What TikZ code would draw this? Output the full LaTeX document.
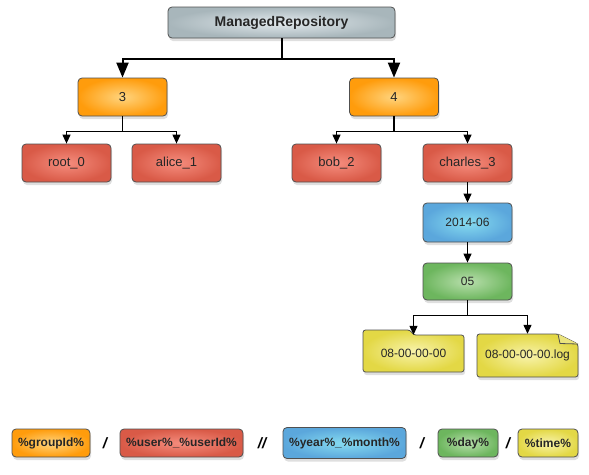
\documentclass[tikz,border=0pt]{standalone}
\usepackage{fontspec}
\setmainfont{Liberation Sans}
\usetikzlibrary{shapes}
\usetikzlibrary{arrows.meta}
\usetikzlibrary{shadows}

\definecolor{boxline}{HTML}{505050}
\definecolor{grayin}{HTML}{E3EAEE}\definecolor{grayout}{HTML}{A8B6BB}
\definecolor{orangein}{HTML}{FFD47E}\definecolor{orangeout}{HTML}{FF9C0C}
\definecolor{redin}{HTML}{F58D7E}\definecolor{redout}{HTML}{D95A47}
\definecolor{bluein}{HTML}{86DCF0}\definecolor{blueout}{HTML}{5BA7DC}
\definecolor{greenin}{HTML}{B9DFAD}\definecolor{greenout}{HTML}{6DB65E}
\definecolor{yellowin}{HTML}{F8F3AB}\definecolor{yellowout}{HTML}{E3D845}

\begin{document}
\begin{tikzpicture}[x=1pt,y=-1pt,
			box/.style={rectangle,rounded corners=4pt,draw=boxline,line width=0.8pt,inner sep=0pt,text=black!85,minimum width=89pt,minimum height=38pt,drop shadow={shadow xshift=1pt,shadow yshift=-3pt,opacity=0.25}},
			rootbox/.style={box,inner color=grayin,outer color=grayout,minimum width=227pt,minimum height=31pt,font=\fontsize{14}{16}\selectfont\bfseries},
			groupbox/.style={box,inner color=orangein,outer color=orangeout,font=\fontsize{13}{15}\selectfont},
			userbox/.style={box,inner color=redin,outer color=redout,font=\fontsize{13}{15}\selectfont},
			monthbox/.style={box,inner color=bluein,outer color=blueout,font=\fontsize{12}{14}\selectfont},
			daybox/.style={box,inner color=greenin,outer color=greenout,font=\fontsize{12}{14}\selectfont},
			filetext/.style={rectangle,inner sep=0pt,text=black!85,font=\fontsize{12}{14}\selectfont},
			filebody/.style={draw=boxline,line width=0.8pt,inner color=yellowin,outer color=yellowout,rounded corners=2.5pt,drop shadow={shadow xshift=1pt,shadow yshift=-3pt,opacity=0.25}},
			key/.style={minimum height=28pt,font=\fontsize{12}{14}\selectfont\bfseries},
			sep/.style={inner sep=0pt,font=\fontsize{15}{17}\selectfont\bfseries\itshape},
			bigarrow/.style={line width=2pt,-{Triangle[length=15pt,width=12pt]}},
			arrow/.style={line width=1.2pt,-{Triangle[length=9pt,width=8pt]}}
			]
			\useasboundingbox (0,0) rectangle (589,474);
			\node[rootbox] (repo) at (281.5,22.5) {ManagedRepository};
			\node[groupbox] (g3) at (122.5,97) {3};
			\node[groupbox] (g4) at (394,97) {4};
			\node[userbox] (root0) at (66.5,163) {root\_0};
			\node[userbox] (alice1) at (176.5,163) {alice\_1};
			\node[userbox] (bob2) at (336.5,163) {bob\_2};
			\node[userbox] (charles3) at (467.5,163) {charles\_3};
			\node[monthbox,minimum height=39pt] (month) at (467.5,222.5) {2014-06};
			\node[daybox,minimum height=37pt] (day) at (467.5,281.5) {05};
			\path[filebody] (363,372) -- (363,330) -- (410,330) -- (413.5,335) -- (464,335) -- (464,372) -- cycle;
			\path[filebody] (477,377) -- (477,334) -- (558,334) -- (578,344) -- (578,377) -- cycle;
			\draw[boxline,line width=0.8pt,fill=yellowout!70,line join=round] (558,334) -- (560,343.5) -- (578,344);
			\node[filetext,minimum width=101pt,minimum height=37pt] (dir) at (413.5,353.5) {08-00-00-00};
			\node[filetext,minimum width=101pt,minimum height=43pt] (log) at (527.5,355.5) {08-00-00-00.log};
			\draw[bigarrow] (repo.south) -- ++(0,21) -| (g3.north);
			\draw[bigarrow] (repo.south) -- ++(0,21) -| (g4.north);
			\draw[arrow] (g3.south) -- ++(0,15) -| (root0.north);
			\draw[arrow] (g3.south) -- ++(0,15) -| (alice1.north);
			\draw[arrow] (g4.south) -- ++(0,15) -| (bob2.north);
			\draw[arrow] (g4.south) -- ++(0,15) -| (charles3.north);
			\draw[arrow] (charles3) -- (month);
			\draw[arrow] (month) -- (day);
			\draw[arrow] (day.south) -- ++(0,15) -| (dir.north);
			\draw[arrow] (day.south) -- ++(0,15) -| (log.north);
			\node[groupbox,key,minimum width=78pt] (kgroup) at (51,443) {\%groupId\%};
			\node[sep] (s1) at (105,443) {/};
			\node[userbox,key,minimum width=123pt] (kuser) at (181.5,443) {\%user\%\_\%userId\%};
			\node[sep] (s2) at (262,443) {//};
			\node[monthbox,key,minimum width=123pt,minimum height=31pt] (kmonth) at (344.5,443) {\%year\%\_\%month\%};
			\node[sep] (s3) at (422,443) {/};
			\node[daybox,key,minimum width=60pt] (kday) at (468,443) {\%day\%};
			\node[sep] (s4) at (508,443) {/};
			\node[box,key,inner color=yellowin,outer color=yellowout,minimum width=60pt] (ktime) at (548,443) {\%time\%};
\end{tikzpicture}
\end{document}
